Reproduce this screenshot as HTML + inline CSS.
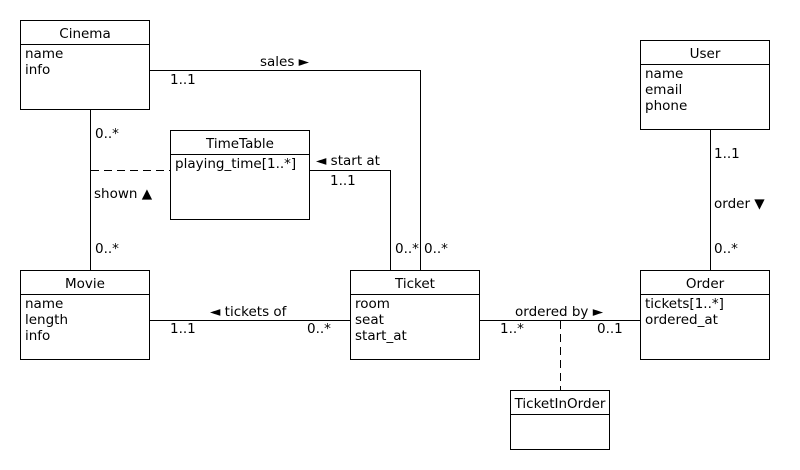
<!DOCTYPE html>
<html><head><style>body{margin:0;background:#fff}svg{display:block}text{font-family:"DejaVu Sans",sans-serif;font-size:13.5px;fill:#000}</style></head><body>
<svg width="800" height="470" viewBox="0 0 800 470" xmlns="http://www.w3.org/2000/svg">
<g fill="#fff" stroke="#000" stroke-width="1">
<rect x="20.5" y="20.5" width="129" height="89"/><line x1="20" y1="44.5" x2="150" y2="44.5"/>
<rect x="170.5" y="130.5" width="139" height="89"/><line x1="170" y1="154.5" x2="310" y2="154.5"/>
<rect x="20.5" y="270.5" width="129" height="89"/><line x1="20" y1="294.5" x2="150" y2="294.5"/>
<rect x="350.5" y="270.5" width="129" height="89"/><line x1="350" y1="294.5" x2="480" y2="294.5"/>
<rect x="640.5" y="270.5" width="129" height="89"/><line x1="640" y1="294.5" x2="770" y2="294.5"/>
<rect x="640.5" y="40.5" width="129" height="89"/><line x1="640" y1="64.5" x2="770" y2="64.5"/>
<rect x="510.5" y="390.5" width="99" height="59"/><line x1="510" y1="414.5" x2="610" y2="414.5"/>
</g>
<g fill="none" stroke="#000" stroke-width="1">
<polyline points="150,70.5 420.5,70.5 420.5,270"/>
<polyline points="310,170.5 390.5,170.5 390.5,270"/>
<line x1="90.5" y1="110" x2="90.5" y2="270"/>
<line x1="91" y1="170.5" x2="170" y2="170.5" stroke-dasharray="8,5"/>
<line x1="150" y1="320.5" x2="350" y2="320.5"/>
<line x1="480" y1="320.5" x2="640" y2="320.5"/>
<line x1="560.5" y1="321" x2="560.5" y2="390" stroke-dasharray="8,5"/>
<line x1="710.5" y1="130" x2="710.5" y2="270"/>
</g>
<g text-anchor="middle">
<text x="85" y="38">Cinema</text><text x="240" y="148">TimeTable</text><text x="85" y="288">Movie</text>
<text x="415" y="288">Ticket</text><text x="705" y="288">Order</text><text x="705" y="58">User</text>
<text x="560" y="408">TicketInOrder</text>
</g>
<text x="25" y="58">name</text><text x="25" y="74">info</text>
<text x="175" y="168">playing_time[1..*]</text>
<text x="25" y="308">name</text><text x="25" y="324">length</text><text x="25" y="340">info</text>
<text x="355" y="308">room</text><text x="355" y="324">seat</text><text x="355" y="340">start_at</text>
<text x="645" y="308">tickets[1..*]</text><text x="645" y="324">ordered_at</text>
<text x="645" y="78">name</text><text x="645" y="94">email</text><text x="645" y="110">phone</text>
<text x="260" y="66">sales ►</text><text x="170" y="84">1..1</text>
<text x="95" y="138">0..*</text><text x="94" y="198">shown ▲</text><text x="95" y="253">0..*</text>
<text x="316" y="165">◄ start at</text><text x="330" y="185">1..1</text>
<text x="395" y="253">0..*</text><text x="424" y="253">0..*</text>
<text x="210" y="316">◄ tickets of</text><text x="170" y="333">1..1</text><text x="307" y="333">0..*</text>
<text x="515" y="316">ordered by ►</text><text x="500" y="333">1..*</text><text x="597" y="333">0..1</text>
<text x="714" y="158">1..1</text><text x="714" y="208">order ▼</text><text x="714" y="253">0..*</text>
</svg>
</body></html>
